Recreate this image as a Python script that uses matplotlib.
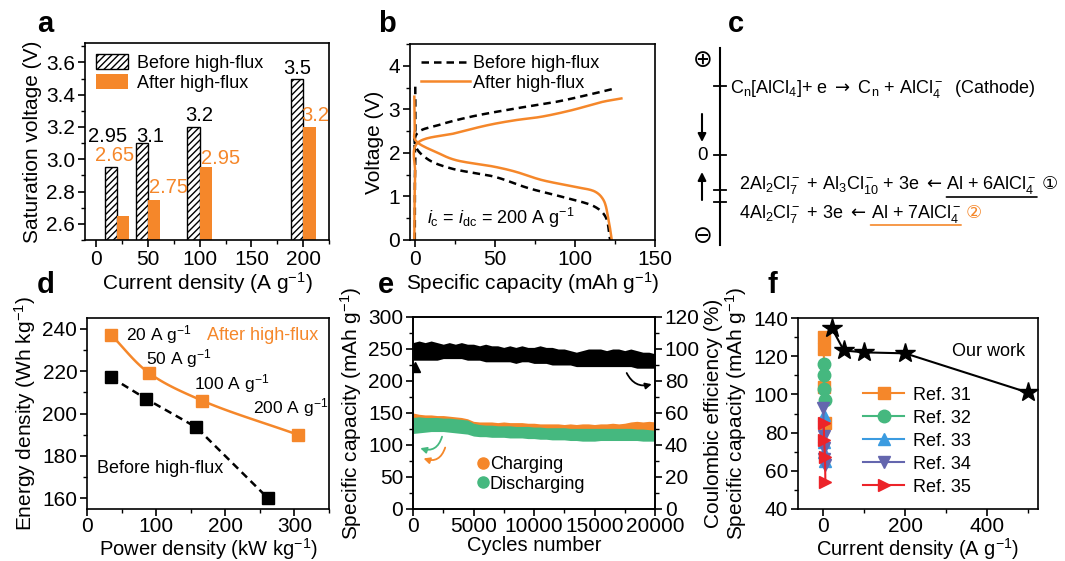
import numpy as np
import matplotlib
matplotlib.use('Agg')
import matplotlib.pyplot as plt
from matplotlib.patches import Patch
from matplotlib.lines import Line2D
from matplotlib.ticker import MultipleLocator

plt.rcParams['font.family'] = ['Liberation Sans', 'DejaVu Sans']
plt.rcParams['mathtext.fontset'] = 'custom'
plt.rcParams['mathtext.rm'] = 'Liberation Sans'
plt.rcParams['mathtext.it'] = 'Liberation Sans:italic'
plt.rcParams['mathtext.bf'] = 'Liberation Sans:bold'
plt.rcParams['mathtext.sf'] = 'DejaVu Sans'
plt.rcParams['axes.linewidth'] = 1.2
plt.rcParams['hatch.linewidth'] = 1.0

FS = 15
BFS = 14.5
LFS = 13
ORANGE = '#F5872A'
GREEN = '#45B87F'
BLUE = '#3B9BE0'
PURPLE = '#6466AE'
RED = '#EC2329'

# ---------------- data ----------------
# (a) saturation voltage
a_current = [20, 50, 100, 200]
a_before = [2.95, 3.1, 3.2, 3.5]
a_after = [2.65, 2.75, 2.95, 3.2]
a_before_lbl_pos = [(10.5, 3.11), (52.4, 3.11), (99, 3.235), (194, 3.525)]
a_after_lbl_pos = [(17.7, 2.99), (70, 2.79), (120, 2.97), (212, 3.235)]

# (b) charge/discharge curves
b_before_chg_cap = [0, 0.3, 1.5, 15, 35, 63, 88, 108, 125]
b_before_chg_v = [0, 1.8, 2.45, 2.64, 2.83, 3.02, 3.17, 3.33, 3.48]
b_before_dis_cap = [0.3, 0.4, 0.6, 8.7, 23, 50, 71, 92, 112.6, 119, 122]
b_before_dis_v = [3.52, 2.6, 2.14, 1.84, 1.64, 1.45, 1.19, 0.99, 0.76, 0.54, 0]
b_after_chg_cap = [-0.3, 0.2, 1.5, 25, 46, 62.7, 79, 98, 117, 129]
b_after_chg_v = [0, 1.5, 2.22, 2.45, 2.64, 2.75, 2.83, 2.98, 3.17, 3.25]
b_after_dis_cap = [-0.3, 0.0, 0.4, 15, 25, 50, 62.7, 79, 100, 112.6, 117.8, 121, 123]
b_after_dis_v = [3.29, 2.6, 2.29, 1.99, 1.84, 1.68, 1.57, 1.38, 1.22, 1.11, 0.92, 0.46, 0]

# (d) Ragone
d_power_after = [35, 90, 167, 305]
d_energy_after = [237, 219, 206, 190]
d_power_before = [35, 85, 158, 262]
d_energy_before = [217, 207, 193.5, 160]
d_rate_labels = ['20 A g$^{-1}$', '50 A g$^{-1}$', '100 A g$^{-1}$', '200 A g$^{-1}$']
d_rate_lbl_pos = [(57, 237.3), (86, 226.1), (155, 214), (240, 203)]

# (e) cycling
e_cycles = list(range(0, 20001, 500))
e_ce_upper = [104, 105, 104, 105, 104, 103, 104, 103, 104, 103, 103, 102, 103, 102, 102, 101, 102, 101,
              102, 101, 101, 102, 101, 101, 100, 100, 99, 98, 99, 100, 100, 100, 99, 100, 100, 99, 100,
              99, 98, 98, 97]
e_ce_lower = [93, 93, 93, 93, 93, 94, 94, 94, 94, 93, 93, 93, 92, 92, 92, 92, 92, 91, 92, 92, 91, 91,
              91, 90, 90, 90, 90, 89, 89, 89, 89, 89, 89, 89, 89, 89, 89, 88, 88, 88, 88]
e_chg_upper = [150, 148, 147, 147, 146, 146, 145, 144, 143, 141, 137, 136, 136, 136, 135, 136, 135, 135,
               135, 134, 134, 133, 133, 133, 133, 132, 133, 132, 133, 133, 132, 133, 133, 134, 133, 134,
               136, 137, 136, 137, 136]
e_chg_lower = [122, 123, 124, 125, 125, 125, 124, 123, 122, 121, 118, 117, 117, 116, 116, 116, 115, 115,
               115, 114, 114, 113, 113, 112, 112, 112, 111, 111, 110, 110, 110, 111, 111, 111, 111, 111,
               111, 111, 110, 110, 110]
e_dis_upper = [143, 144, 143, 143, 143, 142, 142, 141, 140, 139, 134, 132, 131, 131, 130, 130, 130, 129,
               129, 129, 128, 128, 127, 127, 127, 127, 126, 126, 126, 126, 126, 126, 126, 126, 126, 126,
               126, 125, 125, 124, 123]
e_dis_lower = [118, 119, 120, 121, 121, 121, 120, 119, 118, 117, 114, 113, 113, 112, 112, 112, 111, 111,
               111, 110, 110, 109, 109, 108, 108, 108, 107, 107, 106, 106, 106, 107, 107, 107, 107, 107,
               107, 107, 106, 106, 106]
e_ce_first = 89

# (f) comparison
f_our_x = [20, 50, 100, 200, 500]
f_our_y = [135, 123, 122, 121.5, 101]
f_refs = ['Ref. 31', 'Ref. 32', 'Ref. 33', 'Ref. 34', 'Ref. 35']
f_ref_x = [[0.5, 1, 2, 4], [0.5, 1, 2, 4], [0.5, 1, 2, 4], [0.2, 0.5, 1, 2, 4], [1, 2, 4, 5]]
f_ref_y = [[130, 124, 104, 85], [116, 110, 103, 97], [89, 75, 70, 65], [93, 78, 72, 66, 63],
           [85, 76, 67, 54]]
f_ref_colors = [ORANGE, GREEN, BLUE, PURPLE, RED]
f_ref_markers = ['s', 'o', '^', 'v', '>']


def cr_smooth(x, y, sx, sy, n=20):
    P = np.column_stack([np.asarray(x, float) / sx, np.asarray(y, float) / sy])
    P = np.vstack([2 * P[0] - P[1], P, 2 * P[-1] - P[-2]])
    out = []
    for i in range(1, len(P) - 2):
        p0, p1, p2, p3 = P[i - 1], P[i], P[i + 1], P[i + 2]
        t0 = 0.0
        t1 = t0 + max(np.linalg.norm(p1 - p0), 1e-9) ** 0.5
        t2 = t1 + max(np.linalg.norm(p2 - p1), 1e-9) ** 0.5
        t3 = t2 + max(np.linalg.norm(p3 - p2), 1e-9) ** 0.5
        t = np.linspace(t1, t2, n)[:, None]
        A1 = (t1 - t) / (t1 - t0) * p0 + (t - t0) / (t1 - t0) * p1
        A2 = (t2 - t) / (t2 - t1) * p1 + (t - t1) / (t2 - t1) * p2
        A3 = (t3 - t) / (t3 - t2) * p2 + (t - t2) / (t3 - t2) * p3
        B1 = (t2 - t) / (t2 - t0) * A1 + (t - t0) / (t2 - t0) * A2
        B2 = (t3 - t) / (t3 - t1) * A2 + (t - t1) / (t3 - t1) * A3
        C = (t2 - t) / (t2 - t1) * B1 + (t - t1) / (t2 - t1) * B2
        out.append(C)
    C = np.vstack(out)
    return C[:, 0] * sx, C[:, 1] * sy


W, H = 1065, 561
fig = plt.figure(figsize=(W / 100, H / 100), dpi=100)
axc = fig.add_axes([0, 0, 1, 1])
axc.set_xlim(0, W)
axc.set_ylim(H, 0)
axc.axis('off')


def px_axes(l, t, r, b):
    return fig.add_axes([l / W, 1 - b / H, (r - l) / W, (b - t) / H])


def style(ax, xpad=2):
    ax.tick_params(which='major', direction='out', length=5, width=1.2, labelsize=FS, pad=2)
    ax.tick_params(which='minor', direction='out', length=3, width=1.0)
    ax.tick_params(axis='x', which='major', pad=xpad)


# ---------------- (a) ----------------
axa = px_axes(85, 43, 329, 240)
xa = np.array(a_current)
axa.bar(xa - 6, a_before, width=12, color='white', edgecolor='black', hatch='/////', linewidth=1.0)
axa.bar(xa + 6, a_after, width=12, color=ORANGE, edgecolor='none')
for v, (x, y) in zip(a_before, a_before_lbl_pos):
    axa.text(x, y, f'{v:g}', ha='center', va='baseline', fontsize=14.5, color='black')
for v, (x, y) in zip(a_after, a_after_lbl_pos):
    axa.text(x, y, f'{v:g}', ha='center', va='baseline', fontsize=14.5, color=ORANGE)
axa.set_xlim(-11, 225)
axa.set_ylim(2.5, 3.72)
axa.xaxis.set_major_locator(MultipleLocator(50))
axa.xaxis.set_minor_locator(MultipleLocator(25))
axa.yaxis.set_major_locator(MultipleLocator(0.2))
axa.yaxis.set_minor_locator(MultipleLocator(0.1))
axa.yaxis.set_major_formatter(matplotlib.ticker.FormatStrFormatter('%.1f'))
style(axa)
axa.set_xlabel('Current density (A g$^{-1}$)', fontsize=FS, labelpad=1)
axa.set_ylabel('Saturation voltage (V)', fontsize=FS, labelpad=3)
axa.legend(handles=[Patch(facecolor='white', edgecolor='black', hatch='/////', label='Before high-flux'),
                    Patch(facecolor=ORANGE, edgecolor='none', label='After high-flux')],
           loc='upper left', bbox_to_anchor=(0.0, 1.0), frameon=False, fontsize=LFS,
           handlelength=1.8, handleheight=0.9, handletextpad=0.5, labelspacing=0.15,
           borderaxespad=0.3, borderpad=0.3)

# ---------------- (b) ----------------
axb = px_axes(410, 44, 655, 240)
sx, sy = 150.0, 4.5
x, y = cr_smooth(b_before_chg_cap, b_before_chg_v, sx, sy)
axb.plot(x, y, '--', color='black', lw=1.8, dashes=(3, 2))
x, y = cr_smooth(b_before_dis_cap, b_before_dis_v, sx, sy)
axb.plot(x, y, '--', color='black', lw=1.8, dashes=(3, 2))
x, y = cr_smooth(b_after_chg_cap, b_after_chg_v, sx, sy)
axb.plot(x, y, '-', color=ORANGE, lw=1.8)
x, y = cr_smooth(b_after_dis_cap, b_after_dis_v, sx, sy)
axb.plot(x, y, '-', color=ORANGE, lw=1.8)
axb.set_xlim(-3, 150)
axb.set_ylim(0, 4.5)
axb.xaxis.set_major_locator(MultipleLocator(50))
axb.xaxis.set_minor_locator(MultipleLocator(25))
axb.yaxis.set_major_locator(MultipleLocator(1))
axb.yaxis.set_minor_locator(MultipleLocator(0.5))
style(axb)
axb.set_xlabel('Specific capacity (mAh g$^{-1}$)', fontsize=FS, labelpad=1)
axb.set_ylabel('Voltage (V)', fontsize=FS, labelpad=3)
axb.text(7.7, 0.5, r'$i_\mathrm{c}$ = $i_\mathrm{dc}$ = 200 A g$^{-1}$', fontsize=LFS, ha='left', va='center')
axb.legend(handles=[Line2D([], [], ls='--', dashes=(3, 2), color='black', lw=1.8, label='Before high-flux'),
                    Line2D([], [], ls='-', color=ORANGE, lw=1.8, label='After high-flux')],
           loc='upper left', bbox_to_anchor=(0.0, 1.0), frameon=False, fontsize=LFS,
           handlelength=2.7, handletextpad=0.2, labelspacing=0.15, borderaxespad=0.3, borderpad=0.3)

# ---------------- (c) ----------------
axc.plot([720, 720], [48, 245], color='black', lw=1.5)
for yy in [86, 155, 190, 202]:
    axc.plot([714, 726], [yy, yy], color='black', lw=1.3)
axc.text(703, 60, '\u2295', fontsize=17, ha='center', va='center', family=['DejaVu Sans'])
axc.text(703, 236, '\u2296', fontsize=17, ha='center', va='center', family=['DejaVu Sans'])
axc.text(702, 155, '0', fontsize=13.5, ha='center', va='center')
axc.annotate('', xy=(702, 142), xytext=(702, 114),
             arrowprops=dict(arrowstyle='-|>', color='black', lw=1.5, mutation_scale=12, shrinkA=0, shrinkB=0))
axc.annotate('', xy=(702, 172), xytext=(702, 200),
             arrowprops=dict(arrowstyle='-|>', color='black', lw=1.5, mutation_scale=12, shrinkA=0, shrinkB=0))
CFS = 13
axc.text(730, 93, r'C$_\mathrm{n}$[AlCl$_4$]+ e $\mathsf{\rightarrow}$ C$_\mathrm{n}$ + AlCl$_4^-$  (Cathode)',
         fontsize=CFS, ha='left', va='baseline')
t1 = axc.text(739, 189, r'2Al$_2$Cl$_7^-$ + Al$_3$Cl$_{10}^-$ + 3e $\mathsf{\leftarrow}$ ', fontsize=CFS,
              ha='left', va='baseline')
t2 = axc.annotate(r'Al + 6AlCl$_4^-$', xy=(1, 189), xycoords=(t1, 'data'), fontsize=CFS,
                  ha='left', va='baseline')
axc.annotate('', xy=(1, 197), xycoords=(t2, 'data'), xytext=(0, 197), textcoords=(t2, 'data'),
             arrowprops=dict(arrowstyle='-', color='black', lw=1.2, shrinkA=0, shrinkB=0))
axc.annotate('\u2460', xy=(1, 189), xycoords=(t2, 'data'), xytext=(3, 0), textcoords='offset points',
             fontsize=CFS, ha='left', va='baseline', family=['DejaVu Sans', 'Noto Sans CJK JP'])
t3 = axc.text(739, 218, r'4Al$_2$Cl$_7^-$ + 3e $\mathsf{\leftarrow}$ ', fontsize=CFS, ha='left', va='baseline')
t4 = axc.annotate(r'Al + 7AlCl$_4^-$', xy=(1, 218), xycoords=(t3, 'data'), fontsize=CFS,
                  ha='left', va='baseline')
axc.annotate('', xy=(1, 225), xycoords=(t4, 'data'), xytext=(0, 225), textcoords=(t4, 'data'),
             arrowprops=dict(arrowstyle='-', color=ORANGE, lw=1.2, shrinkA=0, shrinkB=0))
axc.annotate('\u2461', xy=(1, 218), xycoords=(t4, 'data'), xytext=(3, 0), textcoords='offset points',
             fontsize=CFS, ha='left', va='baseline', color=ORANGE, family=['DejaVu Sans', 'Noto Sans CJK JP'])

# ---------------- (d) ----------------
axd = px_axes(87, 318, 329, 509)
x, y = cr_smooth(d_power_after, d_energy_after, 350.0, 90.0)
axd.plot(x, y, '-', color=ORANGE, lw=1.8)
axd.plot(d_power_after, d_energy_after, 's', color=ORANGE, ms=8)
axd.plot(d_power_before, d_energy_before, '--', color='black', lw=1.8, dashes=(3, 2))
axd.plot(d_power_before, d_energy_before, 's', color='black', ms=8)
for s, (x0, y0) in zip(d_rate_labels, d_rate_lbl_pos):
    axd.text(x0, y0, s, fontsize=12.5, ha='left', va='center')
axd.text(174, 236.9, 'After high-flux', color=ORANGE, fontsize=LFS, ha='left', va='center')
axd.text(14, 174, 'Before high-flux', color='black', fontsize=LFS, ha='left', va='center')
axd.set_xlim(0, 350)
axd.set_ylim(155, 245)
axd.xaxis.set_major_locator(MultipleLocator(100))
axd.xaxis.set_minor_locator(MultipleLocator(50))
axd.yaxis.set_major_locator(MultipleLocator(20))
axd.yaxis.set_minor_locator(MultipleLocator(10))
style(axd, xpad=1)
axd.set_xlabel('Power density (kW kg$^{-1}$)', fontsize=BFS, labelpad=0)
axd.set_ylabel('Energy density (Wh kg$^{-1}$)', fontsize=FS, labelpad=3)

# ---------------- (e) ----------------
axe = px_axes(413, 317, 655, 509)
axe2 = axe.twinx()
axe.fill_between(e_cycles, e_chg_lower, e_chg_upper, color=ORANGE, lw=0)
axe.fill_between(e_cycles, e_dis_lower, e_dis_upper, color=GREEN, lw=0)
axe2.fill_between(e_cycles, e_ce_lower, e_ce_upper, color='black', lw=0)
axe2.plot([150], [e_ce_first], '^', color='black', ms=7)
axe.set_xlim(0, 20000)
axe.set_ylim(0, 300)
axe2.set_ylim(0, 120)
axe.xaxis.set_major_locator(MultipleLocator(5000))
axe.xaxis.set_minor_locator(MultipleLocator(2500))
axe.yaxis.set_major_locator(MultipleLocator(50))
axe.yaxis.set_minor_locator(MultipleLocator(25))
axe2.yaxis.set_major_locator(MultipleLocator(20))
axe2.yaxis.set_minor_locator(MultipleLocator(10))
style(axe, xpad=1)
style(axe2, xpad=1)
axe.set_xlabel('Cycles number', fontsize=BFS, labelpad=0)
axe.set_ylabel('Specific capacity (mAh g$^{-1}$)', fontsize=FS, labelpad=3)
axe2.set_ylabel('Coulombic efficiency (%)', fontsize=FS, labelpad=3)
axe.annotate('', xy=(600, 95), xytext=(2400, 113),
             arrowprops=dict(arrowstyle='-|>', color=GREEN, lw=1.3, mutation_scale=9,
                             connectionstyle='arc3,rad=-0.5', shrinkA=0, shrinkB=0))
axe.annotate('', xy=(870, 79), xytext=(2660, 96),
             arrowprops=dict(arrowstyle='-|>', color=ORANGE, lw=1.3, mutation_scale=9,
                             connectionstyle='arc3,rad=-0.5', shrinkA=0, shrinkB=0))
axe2.annotate('', xy=(19730, 78), xytext=(17660, 85),
              arrowprops=dict(arrowstyle='-|>', color='black', lw=1.3, mutation_scale=9,
                              connectionstyle='arc3,rad=0.4', shrinkA=0, shrinkB=0))
axe.legend(handles=[Line2D([], [], ls='none', marker='o', ms=8, color=ORANGE, label='Charging'),
                    Line2D([], [], ls='none', marker='o', ms=8, color=GREEN, label='Discharging')],
           loc='center left', bbox_to_anchor=(0.265, 0.181), frameon=False, fontsize=LFS,
           handlelength=0.6, handletextpad=0.1, labelspacing=0.15, borderaxespad=0, borderpad=0)

# ---------------- (f) ----------------
axf = px_axes(798, 318, 1038, 509)
hs = []
for name, xs, ys, c, m in zip(f_refs, f_ref_x, f_ref_y, f_ref_colors, f_ref_markers):
    h, = axf.plot(xs, ys, '-', color=c, marker=m, ms=9, lw=1.5, label=name)
    hs.append(h)
axf.plot(f_our_x, f_our_y, '-', color='black', lw=1.5)
axf.plot(f_our_x, f_our_y, '*', color='black', ms=15)
axf.text(403, 122.3, 'Our work', fontsize=LFS, ha='center', va='center')
axf.set_xlim(-62, 525)
axf.set_ylim(40, 140)
axf.xaxis.set_major_locator(MultipleLocator(200))
axf.xaxis.set_minor_locator(MultipleLocator(100))
axf.yaxis.set_major_locator(MultipleLocator(20))
axf.yaxis.set_minor_locator(MultipleLocator(10))
style(axf, xpad=1)
axf.set_xlabel('Current density (A g$^{-1}$)', fontsize=BFS, labelpad=0)
axf.set_ylabel('Specific capacity (mAh g$^{-1}$)', fontsize=FS, labelpad=3)
axf.legend(handles=hs, loc='upper left', bbox_to_anchor=(0.27, 0.64), frameon=False, fontsize=LFS,
           handlelength=2.3, handletextpad=0.5, labelspacing=0.33, borderaxespad=0, borderpad=0)

# panel letters
for s, (x0, y0) in zip('abcdef', [(37, 32), (378, 32), (728, 32), (37, 293), (378, 293), (768, 293)]):
    axc.text(x0, y0, s, fontsize=21, fontweight='bold', ha='left', va='baseline')

fig.savefig('out.png', dpi=100)
